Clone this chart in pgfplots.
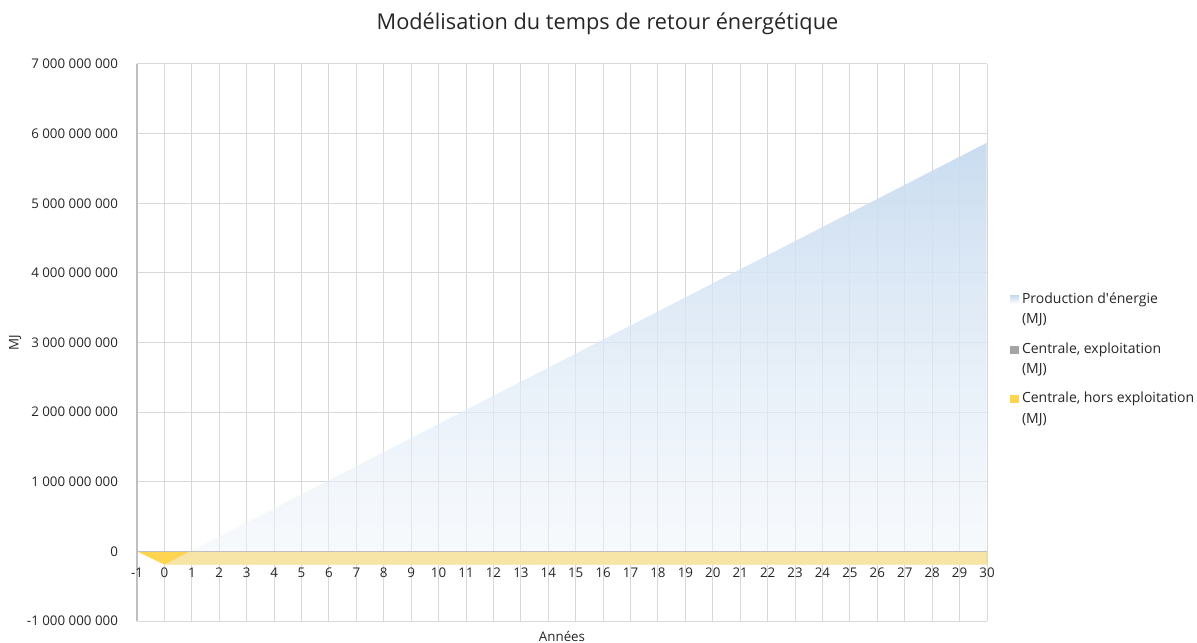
\documentclass[border=0pt]{standalone}
\usepackage{pgfplots}
\pgfplotsset{compat=1.18}
\usepackage{fontspec}
\setmainfont{Open Sans}
\usetikzlibrary{fadings}
\definecolor{gridc}{HTML}{D9D9D9}
\definecolor{axc}{HTML}{BFBFBF}
\definecolor{yel}{HTML}{FFD54F}
\definecolor{bluetop}{HTML}{C9DCF0}
\definecolor{bluebot}{HTML}{F0F5FB}
\definecolor{leggray}{HTML}{A5A5A5}
\definecolor{txt}{HTML}{262626}
\tikzfading[name=myfade, top color=transparent!0, bottom color=transparent!50]
\begin{document}
\begin{tikzpicture}
\begin{axis}[
  name=ax,
  scale only axis,
  width=637.5pt, height=417.75pt,
  xmin=-1, xmax=30, ymin=-1e9, ymax=7e9,
  axis x line=middle, axis y line=left,
  hide obscured x ticks=false, hide obscured y ticks=false,
  axis line style={-, color=axc, line width=0.8pt},
  tick style={draw=none},
  grid=major,
  major grid style={color=gridc, line width=0.75pt},
  xtick={-1,0,1,2,3,4,5,6,7,8,9,10,11,12,13,14,15,16,17,18,19,20,21,22,23,24,25,26,27,28,29,30},
  xticklabels={-1,0,1,2,3,4,5,6,7,8,9,10,11,12,13,14,15,16,17,18,19,20,21,22,23,24,25,26,27,28,29,30},
  ytick={-1e9,0,1e9,2e9,3e9,4e9,5e9,6e9,7e9},
  yticklabels={-1 000 000 000,0,1 000 000 000,2 000 000 000,3 000 000 000,4 000 000 000,5 000 000 000,6 000 000 000,7 000 000 000},
  scaled y ticks=false,
  ticklabel style={font=\fontsize{10}{12}\selectfont, text=txt, inner sep=0pt},
  xticklabel style={anchor=base, yshift=-17.6pt},
  yticklabel style={anchor=east, xshift=-12pt},
  xlabel={Années},
  xlabel style={at={(rel axis cs:0.5,0)}, anchor=base, yshift=-15pt, font=\fontsize{10}{12}\selectfont, text=txt, inner sep=0pt},
  ylabel={MJ},
  ylabel style={at={(axis description cs:-0.1394,0.5)}, anchor=base, font=\fontsize{10}{12}\selectfont, text=txt, inner sep=0pt},
  title={Modélisation du temps de retour énergétique},
  title style={at={(rel axis cs:0.5535,1)}, anchor=base, yshift=20pt, font=\fontsize{16.3}{19}\selectfont, text=txt, inner sep=0pt},
  legend style={at={(rel axis cs:1.02706,0.5959)}, anchor=north west, draw=none, fill=none,
     inner sep=0pt, outer sep=0pt,
     font=\fontsize{10.5}{15.4}\selectfont, text=txt,
     nodes={inner sep=0pt}, row sep=9.6pt, column sep=2.25pt,
     cells={anchor=base west}},
  legend image code/.code={\path[#1] (0pt,15.1pt) rectangle (6.75pt,21.1pt);},
]
% Centrale, hors exploitation
\addplot[draw=none, fill=yel, forget plot] coordinates {
(-1,0)(0,-190000000)(1,-190000000)(2,-190000000)(3,-190000000)(4,-190000000)(5,-190000000)
(6,-190000000)(7,-190000000)(8,-190000000)(9,-190000000)(10,-190000000)(11,-190000000)
(12,-190000000)(13,-190000000)(14,-190000000)(15,-190000000)(16,-190000000)(17,-190000000)
(18,-190000000)(19,-190000000)(20,-190000000)(21,-190000000)(22,-190000000)(23,-190000000)
(24,-190000000)(25,-190000000)(26,-190000000)(27,-190000000)(28,-190000000)(29,-190000000)
(30,-190000000)} \closedcycle;
% Production d'energie
\addplot[draw=none, top color=bluetop, bottom color=bluebot, path fading=myfade, fit fading=true, forget plot] coordinates {
(0,-190000000)(1,12000000)(2,214000000)(3,416000000)(4,618000000)(5,820000000)
(6,1022000000)(7,1224000000)(8,1426000000)(9,1628000000)(10,1830000000)
(11,2032000000)(12,2234000000)(13,2436000000)(14,2638000000)(15,2840000000)
(16,3042000000)(17,3244000000)(18,3446000000)(19,3648000000)(20,3850000000)
(21,4052000000)(22,4254000000)(23,4456000000)(24,4658000000)(25,4860000000)
(26,5062000000)(27,5264000000)(28,5466000000)(29,5668000000)(30,5870000000)
(30,-190000000)} -- cycle;
% Centrale, exploitation
\addplot[color=axc, line width=1.1pt, forget plot] coordinates {(-1,0)(30,0)};
\addlegendimage{draw=none, top color=bluetop, bottom color=white}
\addlegendentry{\begin{tabular}[b]{@{}l@{}}Production d\textquotesingle énergie\\(MJ)\end{tabular}}
\addlegendimage{draw=none, fill=leggray}
\addlegendentry{\begin{tabular}[b]{@{}l@{}}Centrale, exploitation\\(MJ)\end{tabular}}
\addlegendimage{draw=none, fill=yel}
\addlegendentry{\begin{tabular}[b]{@{}l@{}}Centrale, hors exploitation\\(MJ)\end{tabular}}
\end{axis}
\pgfresetboundingbox
\path ([shift={(-102.75pt,-15.75pt)}]ax.south west) rectangle ([shift={(157.5pt,48pt)}]ax.north east);
\end{tikzpicture}
\end{document}
